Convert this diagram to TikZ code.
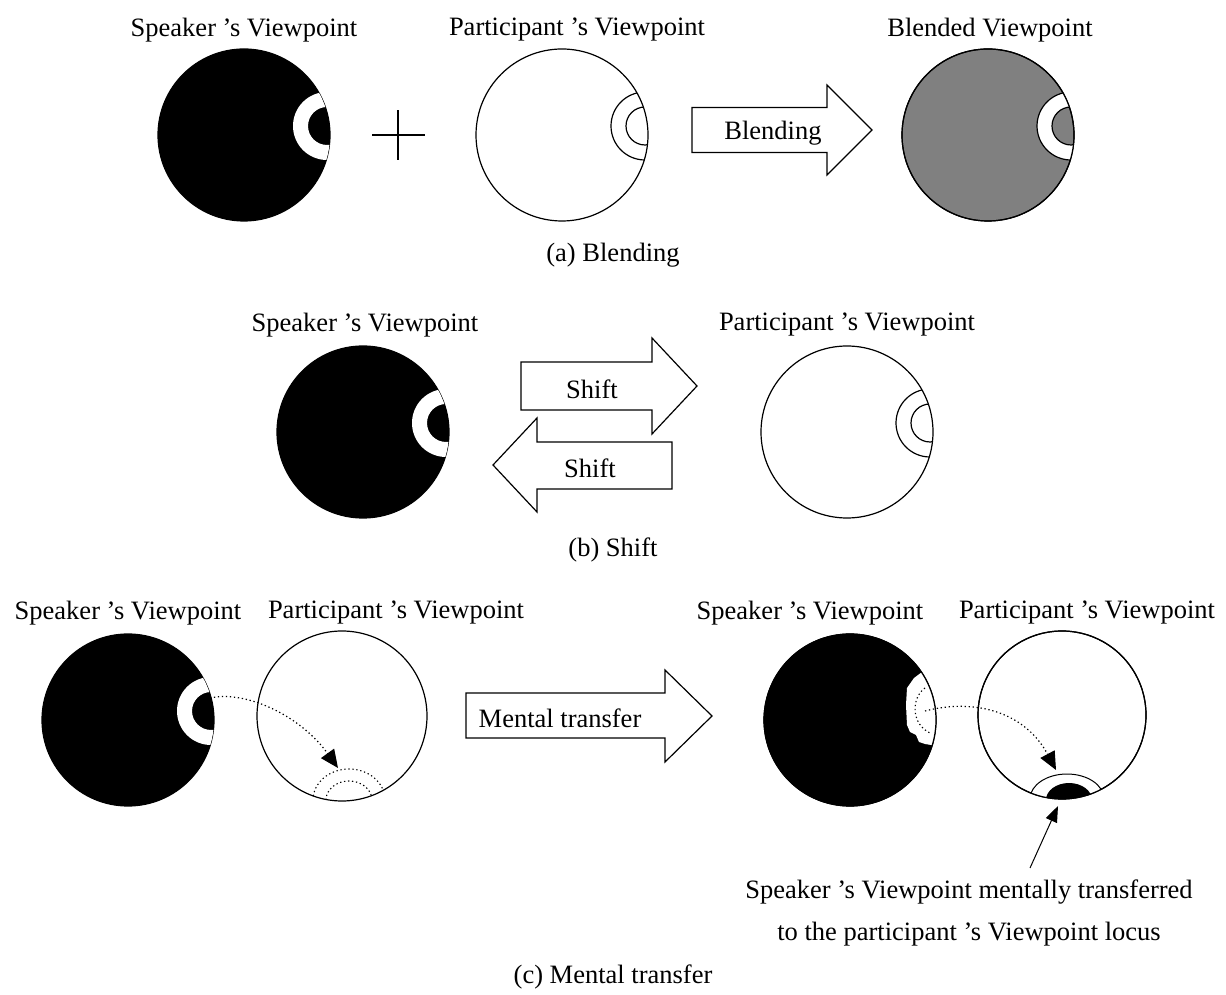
\documentclass[tikz,border=0pt]{standalone}
\usepackage{fontspec}
\setmainfont{Liberation Serif}
\usetikzlibrary{arrows.meta,calc}
\begin{document}
\begin{tikzpicture}[x=1pt,y=1pt,
  lbl/.style={inner sep=0pt, font=\fontsize{26.5}{30}\selectfont},
  ring/.style={line width=1.2pt},
  vp/.style={circle, minimum size=172pt, inner sep=0pt, draw, ring},
  bigarrow/.style={draw, line width=1.2pt, fill=white, line join=miter},
  transfer/.style={line width=1.2pt, dash pattern=on 1.3pt off 2.7pt,
    -{Triangle[length=18pt,width=16pt]}},
  pointer/.style={line width=1pt, -{Triangle[length=16pt,width=12pt]}},
]
\useasboundingbox (0,0) rectangle (1226,994);
\newcommand{\vpnotch}[1]{($(#1.center)+(83,9)$)}

% ---------- (a) Blending ----------
\node[lbl] (tSA) at (244,964) {Speaker ’s Viewpoint};
\node[lbl] (tPA) at (577,964) {Participant ’s Viewpoint};
\node[lbl] (tBA) at (990,964) {Blended Viewpoint};

\node[vp, fill=black] (SA) at (244,859) {};
\begin{scope}
  \clip (SA.center) circle (86);
  \fill[white, even odd rule] \vpnotch{SA} circle (34) circle (19);
\end{scope}

\draw[ring] (372,859) -- (425,859) (398,834) -- (398,884);

\node[vp, fill=white] (PA) at (562,859) {};
\begin{scope}
  \clip (PA.center) circle (86);
  \draw[ring] \vpnotch{PA} circle (34) circle (19);
\end{scope}

\draw[bigarrow] (692,886.5) -- (827,886.5) -- (827,909) -- (872,864)
  -- (827,819) -- (827,841.5) -- (692,841.5) -- cycle;
\node[lbl] (tBlend) at (773,861) {Blending};

\node[vp, fill=black!50] (BA) at (988,859) {};
\begin{scope}
  \clip (BA.center) circle (86);
  \filldraw[fill=white, ring, even odd rule] \vpnotch{BA} circle (34) circle (19);
\end{scope}
\draw[ring] (BA.center) circle (86);

\node[lbl] (capA) at (613,739) {(a) Blending};

% ---------- (b) Shift ----------
\node[lbl] (tSB) at (365,669) {Speaker ’s Viewpoint};
\node[lbl] (tPB) at (847,669) {Participant ’s Viewpoint};

\node[vp, fill=black] (SB) at (363,562) {};
\begin{scope}
  \clip (SB.center) circle (86);
  \fill[white, even odd rule] \vpnotch{SB} circle (34) circle (19);
\end{scope}

\draw[bigarrow] (521,632) -- (652,632) -- (652,656) -- (697,608)
  -- (652,560) -- (652,584) -- (521,584) -- cycle;
\node[lbl] (tShiftR) at (592,605) {Shift};
\draw[bigarrow] (672,552) -- (537,552) -- (537,576) -- (493,529)
  -- (537,482) -- (537,505) -- (672,505) -- cycle;
\node[lbl] (tShiftL) at (590,526) {Shift};

\node[vp, fill=white] (PB) at (847,562) {};
\begin{scope}
  \clip (PB.center) circle (86);
  \draw[ring] \vpnotch{PB} circle (34) circle (19);
\end{scope}

\node[lbl] (capB) at (613,444) {(b) Shift};

% ---------- (c) Mental transfer ----------
\node[lbl] (tSC) at (128,381) {Speaker ’s Viewpoint};
\node[lbl] (tPC) at (396,381) {Participant ’s Viewpoint};
\node[lbl] (tSD) at (810,381) {Speaker ’s Viewpoint};
\node[lbl] (tPD) at (1087,381) {Participant ’s Viewpoint};

% before the transfer
\node[vp, fill=black] (SC) at (128,274) {};
\begin{scope}
  \clip (SC.center) circle (86);
  \fill[white, even odd rule] \vpnotch{SC} circle (34) circle (19);
\end{scope}

\node[vp, fill=white, minimum size=170pt] (PC) at (342,278) {};
\begin{scope}
  \clip (PC.center) circle (85);
  \draw[line width=1.1pt, dash pattern=on 1.3pt off 2.7pt]
    (313,194) arc[start angle=180, end angle=0, x radius=36, y radius=31]
    (326,194) arc[start angle=180, end angle=0, x radius=23, y radius=19];
\end{scope}

\coordinate (fromSC) at (210,296);
\coordinate (toPC) at (338,226);
\draw[transfer] (fromSC) .. controls (245,304) and (300,279) .. (toPC);

\draw[bigarrow] (466,301) -- (665,301) -- (665,324) -- (712,278)
  -- (665,232) -- (665,256) -- (466,256) -- cycle;
\node[lbl] (tMental) at (560,276) {Mental transfer};

% after the transfer
\node[vp, fill=black] (SD) at (850,274) {};
\begin{scope}
  \clip (SD.center) circle (86);
  \fill[white] (922,322) -- (914,316) -- (907,306) -- (906,289) -- (907,269)
    -- (910,262) -- (916,259) -- (919,252) -- (925,250) -- (931,249)
    -- (945,249) -- (945,330) -- cycle;
\end{scope}
\draw[ring] (SD.center) circle (86);
\draw[line width=1.1pt, dash pattern=on 1.3pt off 2.7pt]
  (925,306) .. controls (911,296) and (911,270) .. (930,261);

\node[vp, fill=white, minimum size=168pt] (PD) at (1062,279) {};
\begin{scope}
  \clip (PD.center) circle (84);
  \filldraw[fill=white, line width=1pt]
    (1030,195) arc[start angle=180, end angle=0, x radius=37, y radius=25] -- cycle;
  \fill (1046,194) arc[start angle=180, end angle=0, x radius=23, y radius=17] -- cycle;
\end{scope}
\draw[ring] (PD.center) circle (84);

\coordinate (fromSD) at (925,283);
\coordinate (toPD) at (1056,224);
\draw[transfer] (fromSD) .. controls (975,296) and (1025,282) .. (toPD);

\node[lbl, align=center, font=\fontsize{26.5}{42}\selectfont] (note) at (969,81)
  {Speaker ’s Viewpoint mentally transferred\\to the participant ’s Viewpoint locus};
\coordinate (noteTip) at (1030,126);
\coordinate (locus) at (1058,188);
\draw[pointer] (noteTip) -- (locus);

\node[lbl] (capC) at (613,17) {(c) Mental transfer};
\end{tikzpicture}
\end{document}
